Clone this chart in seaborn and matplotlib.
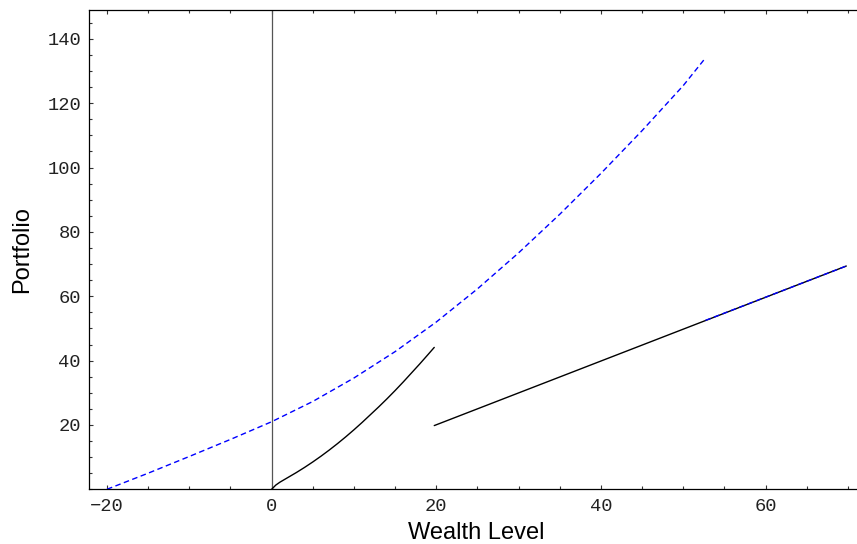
import numpy as np
import pandas as pd
import matplotlib.pyplot as plt
import seaborn as sns
from matplotlib.ticker import MultipleLocator, FixedLocator

# --- valeurs ---
# courbe bleue pointillée (haut)
upper_x = [-20, -15, -10, -5, 0, 5, 10, 15, 20, 25, 30, 35, 40, 45, 50, 52.7]
upper_y = [0, 5.0, 10.2, 15.5, 21.0, 27.3, 34.6, 42.8, 52.0, 62.3, 73.5, 85.5, 98.2, 111.5, 125.5, 134.1]

# courbe noire (0 -> 20)
curve_x = [0, 0.5, 1, 2, 3, 4, 5, 6, 7, 8, 9, 10, 11, 12, 13, 14, 15, 16, 17, 18, 19, 19.75]
curve_y = [0, 1.3, 2.2, 3.7, 5.2, 6.8, 8.5, 10.3, 12.2, 14.2, 16.3, 18.5, 20.8, 23.2,
           25.6, 28.1, 30.7, 33.4, 36.2, 39.0, 41.9, 44.1]

# droite noire (20 -> 70)
line_x = [19.75, 69.8]
line_y = [19.8, 69.4]

# bout bleu pointillé superposé à la droite
tail_x = [52.7, 69.8]
tail_y = [52.5, 69.4]

x_major = [-20, 0, 20, 40, 60]
y_major = [20, 40, 60, 80, 100, 120, 140]

upper = pd.DataFrame({"x": upper_x, "y": upper_y})
curve = pd.DataFrame({"x": curve_x, "y": curve_y})
line = pd.DataFrame({"x": line_x, "y": line_y})
tail = pd.DataFrame({"x": tail_x, "y": tail_y})

sns.set_theme(style="ticks")
plt.rcParams["font.family"] = ["Liberation Sans", "DejaVu Sans"]

fig = plt.figure(figsize=(8.57, 5.44), dpi=100)
ax = fig.add_axes([0.1042, 0.1006, 0.8958, 0.8811])

ax.axvline(0, color="#555555", lw=0.9, zorder=1)

sns.lineplot(data=curve, x="x", y="y", color="black", lw=1.0, ax=ax, zorder=2)
sns.lineplot(data=line, x="x", y="y", color="black", lw=1.0, ax=ax, zorder=2)
sns.lineplot(data=upper, x="x", y="y", color="blue", lw=1.0, linestyle=(0, (4, 2.5)), ax=ax, zorder=3)
sns.lineplot(data=tail, x="x", y="y", color="blue", lw=1.0, linestyle=(0, (4, 2.5)), ax=ax, zorder=3)

ax.set_xlim(-22.15, 71.1)
ax.set_ylim(0, 149)

ax.xaxis.set_major_locator(FixedLocator(x_major))
ax.xaxis.set_minor_locator(MultipleLocator(5))
ax.yaxis.set_major_locator(FixedLocator(y_major))
ax.yaxis.set_minor_locator(MultipleLocator(5))

ax.tick_params(which="both", direction="in", top=True, right=False,
               width=0.8, color="#333333", pad=6)
ax.tick_params(which="major", length=3.2)
ax.tick_params(which="minor", length=2.2)

for lab in ax.get_xticklabels() + ax.get_yticklabels():
    lab.set_fontfamily(["Liberation Mono", "DejaVu Sans Mono"])
    lab.set_fontsize(13.5)
    lab.set_color("#222222")

for side in ["left", "bottom", "top"]:
    ax.spines[side].set_linewidth(0.9)
    ax.spines[side].set_color("black")
ax.spines["right"].set_visible(False)

ax.set_xlabel("Wealth Level", fontsize=17, color="black")
ax.set_ylabel("Portfolio", fontsize=17, color="black")
ax.xaxis.set_label_coords(0.5046, -0.0678)
ax.yaxis.set_label_coords(-0.0735, 0.5)

fig.savefig("out.png", dpi=100)
